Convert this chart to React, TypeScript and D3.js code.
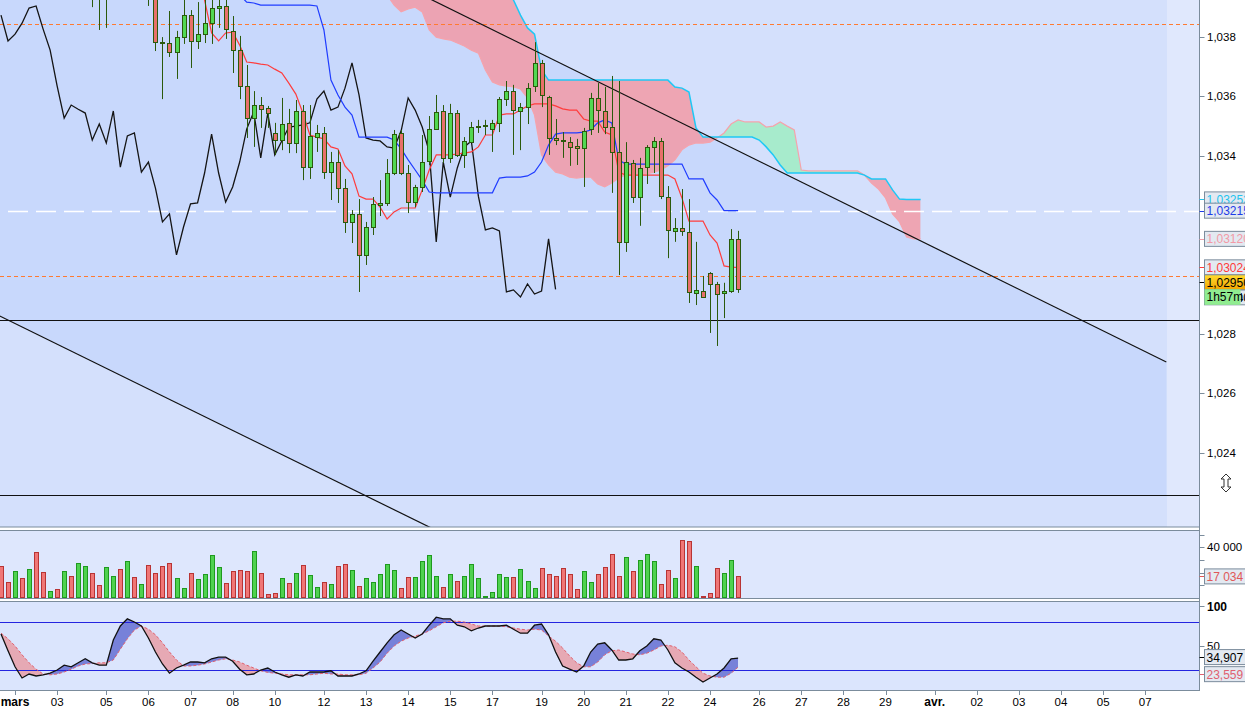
import * as d3 from "d3";
import React from "react";

// 4h candles, index 0 = first candle at the left edge
const candleOpen = [
  1.04127, 1.04077, 1.04043, 1.0411, 1.04077, 1.04144, 1.04009, 1.03959, 1.03992, 1.03965,
  1.04043, 1.03992, 1.04094, 1.04178, 1.03976, 1.03939, 1.04043, 1.0411, 1.04009, 1.04144,
  1.04043, 1.04094, 1.03959, 1.03784, 1.0378, 1.0375, 1.038, 1.03874, 1.03787, 1.0381,
  1.03847, 1.03898, 1.03905, 1.0382, 1.03756, 1.03635, 1.03527, 1.03571, 1.03561, 1.03477,
  1.03453, 1.03511, 1.03443, 1.03551, 1.03362, 1.03463, 1.03477, 1.03345, 1.03379, 1.03291,
  1.03177, 1.03204, 1.03066, 1.0316, 1.03234, 1.03241, 1.03342, 1.03477, 1.03342, 1.03244,
  1.03295, 1.03382, 1.0349, 1.03551, 1.03393, 1.03544, 1.03403, 1.03446, 1.03497, 1.035,
  1.0349, 1.03511, 1.03591, 1.03618, 1.03551, 1.03564, 1.03635, 1.03713, 1.03598, 1.0346,
  1.03453, 1.03446, 1.03433, 1.03426, 1.0349, 1.03595, 1.03551, 1.03497, 1.03413, 1.0311,
  1.03376, 1.03261, 1.03362, 1.0343, 1.0345, 1.03261, 1.03147, 1.03157, 1.03143, 1.02938,
  1.02944, 1.03005, 1.02968, 1.02938, 1.02944, 1.0312,
];
const candleHigh = [
  1.04178, 1.0411, 1.04127, 1.04144, 1.04161, 1.04212, 1.0406, 1.04009, 1.04026, 1.0406,
  1.04077, 1.0411, 1.04195, 1.04212, 1.04009, 1.0406, 1.04127, 1.04144, 1.04161, 1.04178,
  1.04127, 1.04127, 1.03992, 1.038, 1.03888, 1.03821, 1.03932, 1.03891, 1.03918, 1.03942,
  1.03952, 1.03942, 1.03942, 1.03871, 1.03804, 1.03706, 1.03618, 1.03598, 1.03568, 1.03511,
  1.03595, 1.03558, 1.03588, 1.03571, 1.03571, 1.03504, 1.03497, 1.03413, 1.03419, 1.03322,
  1.03217, 1.03254, 1.03177, 1.03261, 1.03318, 1.03389, 1.03487, 1.03487, 1.03369, 1.03302,
  1.0347, 1.03534, 1.03605, 1.03571, 1.03575, 1.03554, 1.03463, 1.03514, 1.03521, 1.03521,
  1.03521, 1.03598, 1.03652, 1.03639, 1.03578, 1.03645, 1.03783, 1.03723, 1.03602, 1.03524,
  1.0348, 1.03463, 1.03457, 1.03494, 1.03612, 1.03645, 1.03632, 1.03669, 1.03652, 1.03446,
  1.03386, 1.03393, 1.03436, 1.03463, 1.0346, 1.03298, 1.0319, 1.03288, 1.03254, 1.0311,
  1.02995, 1.03008, 1.02975, 1.02972, 1.03153, 1.03147,
];
const candleLow = [
  1.0406, 1.04026, 1.04026, 1.0406, 1.0406, 1.03992, 1.03942, 1.03942, 1.03952, 1.03952,
  1.03976, 1.03976, 1.04077, 1.03901, 1.03824, 1.03831, 1.04009, 1.03992, 1.03992, 1.04026,
  1.04026, 1.03905, 1.03753, 1.03591, 1.03733, 1.03659, 1.03777, 1.03696, 1.0376, 1.0378,
  1.03777, 1.03831, 1.03794, 1.03679, 1.03591, 1.0346, 1.0343, 1.03494, 1.03494, 1.03403,
  1.03419, 1.03409, 1.03409, 1.03318, 1.03322, 1.03413, 1.03322, 1.03251, 1.03241, 1.0314,
  1.03106, 1.02941, 1.03032, 1.03133, 1.03197, 1.03231, 1.03335, 1.03335, 1.03207, 1.03227,
  1.03278, 1.03369, 1.03487, 1.03376, 1.03376, 1.03396, 1.03359, 1.03443, 1.03477, 1.0347,
  1.03413, 1.0348, 1.03568, 1.03403, 1.03419, 1.03507, 1.03615, 1.03564, 1.03403, 1.03436,
  1.03393, 1.03366, 1.03369, 1.03295, 1.0347, 1.03477, 1.03473, 1.03275, 1.02998, 1.03076,
  1.03241, 1.03164, 1.03305, 1.03342, 1.03254, 1.03055, 1.0311, 1.0313, 1.02904, 1.02897,
  1.02924, 1.02803, 1.02759, 1.02853, 1.02938, 1.02938,
];
const candleClose = [
  1.04077, 1.04043, 1.0411, 1.04077, 1.04144, 1.04009, 1.03959, 1.03992, 1.03965, 1.04043,
  1.03992, 1.04094, 1.04178, 1.03976, 1.03939, 1.04043, 1.0411, 1.04009, 1.04144, 1.04043,
  1.04094, 1.03959, 1.03784, 1.0378, 1.0375, 1.038, 1.03874, 1.03787, 1.0381, 1.03847,
  1.03898, 1.03905, 1.03827, 1.03756, 1.03635, 1.03527, 1.03571, 1.03557, 1.03544, 1.03453,
  1.03507, 1.03443, 1.03551, 1.03362, 1.03467, 1.03477, 1.03345, 1.03379, 1.03291, 1.03177,
  1.03204, 1.03066, 1.0316, 1.03238, 1.03241, 1.03342, 1.03473, 1.03342, 1.03244, 1.03295,
  1.03379, 1.0349, 1.03548, 1.03393, 1.03544, 1.03403, 1.0345, 1.03497, 1.035, 1.03504,
  1.03511, 1.03591, 1.03618, 1.03554, 1.03564, 1.03628, 1.03713, 1.03605, 1.0346, 1.03453,
  1.0345, 1.0343, 1.03426, 1.03484, 1.03595, 1.03554, 1.03497, 1.03413, 1.0311, 1.03379,
  1.03261, 1.03359, 1.0343, 1.0345, 1.03264, 1.0315, 1.03157, 1.03147, 1.02941, 1.02948,
  1.02924, 1.02968, 1.02934, 1.02944, 1.0312, 1.0295,
];
const volume = [
  25000, 12500, 21000, 15700, 22700, 36000, 20400, 5500, 7000, 21000,
  17300, 27500, 25000, 19600, 10000, 24300, 17300, 22700, 29000, 16500,
  11000, 26000, 19600, 25000, 28000, 15700, 7800, 19600, 15000, 18800,
  33700, 24300, 11800, 21000, 22000, 21000, 36900, 19600, 3100, 3900,
  15700, 11800, 19600, 26000, 18000, 8600, 12500, 11000, 25000, 26700,
  22000, 9400, 15700, 12500, 18800, 26700, 22000, 7800, 16500, 16500,
  29000, 33700, 17300, 8600, 18800, 13300, 17300, 26700, 15700, 1600,
  4700, 18800, 16500, 16500, 22700, 13300, 7800, 23500, 18800, 17300,
  23500, 18800, 7000, 21000, 12500, 18800, 24300, 34500, 17300, 32000,
  21000, 29800, 34500, 29000, 11000, 22000, 15700, 45500, 44700, 25000,
  1600, 3900, 23500, 19600, 29800, 17034,
];

// ichimoku lines
const tenkanStart = 28;
const tenkan = [
  1.03976, 1.03925, 1.03814, 1.03787, 1.03814, 1.03817, 1.03773, 1.03716, 1.03713, 1.03709,
  1.03706, 1.03692, 1.03679, 1.03645, 1.03608, 1.03544, 1.0347, 1.03463, 1.03457, 1.0343,
  1.03423, 1.03366, 1.03339, 1.03264, 1.03254, 1.03254, 1.03227, 1.03187, 1.03211, 1.03224,
  1.03224, 1.03224, 1.03285, 1.03352, 1.03403, 1.03403, 1.03403, 1.03406, 1.03409, 1.03413,
  1.0343, 1.0347, 1.0347, 1.03537, 1.03541, 1.03541, 1.03554, 1.03568, 1.03575, 1.03575,
  1.03575, 1.03568, 1.03558, 1.03554, 1.03554, 1.03524, 1.03517, 1.03517, 1.0348, 1.0347,
  1.03345, 1.03335, 1.03335, 1.03335, 1.03335, 1.03335, 1.03335, 1.03335, 1.03322, 1.03258,
  1.0318, 1.0318, 1.0318, 1.03133, 1.03106, 1.03029, 1.03025, 1.03024,
];
const kijunStart = 34;
const kijun = [
  1.03942, 1.03918, 1.03915, 1.03908, 1.03908, 1.03908, 1.03908, 1.03908, 1.03908, 1.03908,
  1.03908, 1.03905, 1.03824, 1.03655, 1.03605, 1.03564, 1.03537, 1.03463, 1.03463, 1.03463,
  1.03463, 1.03463, 1.03453, 1.03423, 1.03386, 1.03352, 1.03318, 1.03278, 1.03275, 1.03275,
  1.03275, 1.03275, 1.03275, 1.03275, 1.03275, 1.03275, 1.03275, 1.03325, 1.03328, 1.03328,
  1.03328, 1.03332, 1.03345, 1.03379, 1.03436, 1.03473, 1.03477, 1.03477, 1.03477, 1.0348,
  1.03487, 1.03511, 1.03521, 1.03511, 1.03386, 1.03372, 1.03372, 1.03372, 1.03372, 1.03372,
  1.03372, 1.03372, 1.03372, 1.03372, 1.03322, 1.03322, 1.03322, 1.03275, 1.03251, 1.03215,
  1.03215, 1.03215,
];
const spanStart = 55;
const spanA = [
  1.03942, 1.03908, 1.03885, 1.03895, 1.03901, 1.03885, 1.03824, 1.038, 1.03794, 1.0379,
  1.0378, 1.0377, 1.03756, 1.03746, 1.03689, 1.03649, 1.03639, 1.03635, 1.03632, 1.03625,
  1.03595, 1.03537, 1.03403, 1.03369, 1.03345, 1.03339, 1.03328, 1.03325, 1.03328, 1.03328,
  1.03305, 1.03295, 1.03308, 1.03325, 1.03335, 1.03335, 1.03335, 1.03339, 1.03345, 1.03352,
  1.03366, 1.03386, 1.0342, 1.03436, 1.03443, 1.03443, 1.03446, 1.0346, 1.03477, 1.03507,
  1.03521, 1.03514, 1.03514, 1.03514, 1.03497, 1.035, 1.03514, 1.035, 1.03487, 1.03352,
  1.03349, 1.03349, 1.03349, 1.03349, 1.03349, 1.03349, 1.03349, 1.03349, 1.03335, 1.03308,
  1.03288, 1.03258, 1.03204, 1.03177, 1.03126, 1.0312, 1.0312,
];
const spanB = [
  1.04026, 1.04026, 1.04026, 1.04026, 1.04026, 1.04026, 1.04026, 1.04026, 1.04026, 1.04026,
  1.04026, 1.04026, 1.04026, 1.04026, 1.04026, 1.04026, 1.03992, 1.03959, 1.03925, 1.03874,
  1.03831, 1.0381, 1.03689, 1.03655, 1.03655, 1.03655, 1.03655, 1.03655, 1.03655, 1.03655,
  1.03655, 1.03655, 1.03655, 1.03655, 1.03655, 1.03655, 1.03655, 1.03655, 1.03655, 1.03655,
  1.03655, 1.03632, 1.03628, 1.03615, 1.03494, 1.03463, 1.03463, 1.03463, 1.03463, 1.03463,
  1.03463, 1.03463, 1.03463, 1.03453, 1.0343, 1.03403, 1.03369, 1.03342, 1.03342, 1.03342,
  1.03342, 1.03342, 1.03342, 1.03342, 1.03342, 1.03342, 1.03342, 1.03342, 1.03335, 1.03322,
  1.03322, 1.03322, 1.03285, 1.03254, 1.03253, 1.03253, 1.03253,
];
const chikouShift = 26;

// stochastic
const stochK = [
  65, 44, 24, 10, 15, 12.5, 14, 16, 20, 26,
  24, 29, 34, 29, 26, 26, 57.5, 75, 84, 80,
  75, 60, 42.5, 27.5, 16, 22.5, 26, 30, 30, 29,
  34, 36, 36, 31, 21, 14, 15, 20, 22.5, 17.5,
  14, 11, 14, 12.5, 17.5, 17.5, 17.5, 19, 12.5, 12.5,
  12.5, 15, 19, 31, 42.5, 54, 64, 70, 65, 60,
  65, 76, 86, 84, 84, 76, 74, 69, 72.5, 75,
  75, 75, 76, 71, 66, 66, 76, 77.5, 64, 42.5,
  25, 21, 17.5, 25, 42.5, 52.5, 54, 45, 32.5, 32.5,
  34, 44, 50, 59, 57.5, 45, 29, 22.5, 17.5, 11,
  5, 10, 15, 22.5, 34, 34.907,
];
const stochD = [
  66, 59, 50, 39, 29, 21, 15, 14, 15, 17.5,
  21, 25, 27.5, 28, 29, 29, 32.5, 46, 59, 70,
  75, 71, 64, 54, 42.5, 32.5, 25, 25, 26, 27.5,
  30, 32.5, 34, 32.5, 30, 26, 22.5, 19, 17, 16,
  15, 14, 14, 14, 14, 15, 16, 15, 15, 14,
  14, 14, 16, 22.5, 30, 41, 50, 56, 60, 62.5,
  65, 69, 74, 79, 81, 81, 80, 77.5, 75, 75,
  75, 75, 74, 72.5, 71, 70, 71, 70, 62.5, 56,
  47.5, 37.5, 29, 24, 24, 30, 39, 44, 45, 42.5,
  40, 39, 41, 45, 50, 51, 49, 42.5, 32.5, 24,
  16, 12.5, 11, 11, 16, 23.559,
];
const stochLevels = [80, 20];

// drawing objects
const orangeLevels = [1.03844, 1.02995];
const whiteLevel = 1.03215;
const blackLevels = [1.02847, 1.02257];
const upperTrend = [{ i: 61, p: 1.0393 }, { i: 166, p: 1.02705 }];
const lowerTrend = [{ i: 0, p: 1.02858 }, { i: 61, p: 1.02149 }];

// axes
const priceTicks = [1.024, 1.026, 1.028, 1.034, 1.036, 1.038];
const volTicks = [10000, 20000, 30000, 40000, 50000];
const dateTickIdx = [2, 8, 15, 21, 27, 33, 39, 46, 52, 58, 64, 70, 77, 83, 89, 95, 101, 108, 114, 120, 126, 133, 139, 145, 151, 157, 163];
const dateTickLabels = ["mars", "03", "05", "06", "07", "08", "10", "12", "13", "14", "15", "17", "19", "20", "21", "22", "24", "26", "27", "28", "29", "avr.", "02", "03", "04", "05", "07"];
const timerText = "1h57m";

const W = 1245;
const H = 708;
const RIGHT = 1199.5;
const FUTURE_X = 1167;
const MAIN = { top: 0, bottom: 527 };
const VOL = { top: 530, bottom: 598 };
const STO = { top: 601, bottom: 690 };
const FONT = "Arial, 'Liberation Sans', Helvetica, sans-serif";
const BORDER = "#7b8c9c";

const fmtPrice = (v: number) => d3.format(".5f")(v).replace(".", ",");
const fmtTick = (v: number) => d3.format(".3f")(v).replace(".", ",");

function Marker({ yc, text, color, fill = "#e3e9f1", tick, clip }: { yc: number; text: string; color: string; fill?: string; tick?: string; clip?: string }) {
  return (
    <g>
      {tick && <line x1={RIGHT} x2={RIGHT + 5} y1={Math.round(yc) + 0.5} y2={Math.round(yc) + 0.5} stroke={tick} />}
      <rect x={1204.5} y={yc - 7.5} width={42} height={15} fill={fill} stroke={BORDER} />
      <text x={1206.5} y={yc + 4.5} fontSize={12} fill={color} fontFamily={FONT} clipPath={clip}>{text}</text>
    </g>
  );
}

export default function App() {
  const x = d3.scaleLinear().domain([0, 163]).range([1, 1 + 7.02 * 163]);
  const y = d3.scaleLinear().domain([1.024, 1.038]).range([452.5, 37.1]);
  const yVol = d3.scaleLinear().domain([0, 40000]).range([VOL.bottom, 547.3]);
  const ySto = d3.scaleLinear().domain([0, 100]).range([686, 606]);
  const cx = (i: number) => Math.round(x(i));

  const upper = d3.scaleLinear().domain([upperTrend[0].i, upperTrend[1].i]).range([upperTrend[0].p, upperTrend[1].p]);
  const lower = d3.scaleLinear().domain([lowerTrend[0].i, lowerTrend[1].i]).range([lowerTrend[0].p, lowerTrend[1].p]);
  const iEnd = upperTrend[1].i;
  const channel = [
    [x(-1), y(upper(-1))],
    [x(iEnd), y(upper(iEnd))],
    [x(iEnd), y(lower(iEnd))],
    [x(-1), y(lower(-1))],
  ];

  // cloud
  type CP = { i: number; a: number; b: number };
  const cloud: CP[] = spanA.map((a, k) => ({ i: spanStart + k, a, b: spanB[k] }));
  const topTo = (f: (d: CP) => number) => d3.area<CP>().x((d) => x(d.i)).y0(MAIN.top - 5).y1(f)(cloud) || "";
  const toBottom = (f: (d: CP) => number) => d3.area<CP>().x((d) => x(d.i)).y0(f).y1(MAIN.bottom + 5)(cloud) || "";
  const lineA = d3.line<CP>().x((d) => x(d.i)).y((d) => y(d.a))(cloud) || "";
  const lineB = d3.line<CP>().x((d) => x(d.i)).y((d) => y(d.b))(cloud) || "";

  const seriesLine = (vals: number[], start: number) =>
    d3.line<number>().x((_, k) => x(start + k)).y((v) => y(v))(vals) || "";
  const chikou = seriesLine(candleClose.slice(chikouShift), 0);

  // stochastic
  type SP = { i: number; k: number; d: number };
  const sto: SP[] = stochK.map((k, i) => ({ i, k, d: stochD[i] }));
  const sTopTo = (f: (d: SP) => number) => d3.area<SP>().x((d) => x(d.i)).y0(STO.top).y1(f)(sto) || "";
  const sToBottom = (f: (d: SP) => number) => d3.area<SP>().x((d) => x(d.i)).y0(f).y1(STO.bottom)(sto) || "";
  const kLine = d3.line<SP>().x((d) => x(d.i)).y((d) => ySto(d.k))(sto) || "";
  const dLine = d3.line<SP>().x((d) => x(d.i)).y((d) => ySto(d.d))(sto) || "";

  const last = candleClose.length - 1;
  const lastClose = candleClose[last];
  const yClose = y(lastClose);

  return (
    <div style={{ position: "absolute", left: 0, top: 0, width: W, height: H, background: "#fff" }}>
      <svg width={W} height={H} style={{ display: "block" }} fontFamily={FONT}>
        <defs>
          <clipPath id="mainClip"><rect x={0} y={MAIN.top} width={RIGHT} height={MAIN.bottom - MAIN.top} /></clipPath>
          <clipPath id="chanClip"><rect x={0} y={0} width={FUTURE_X} height={y(blackLevels[1])} /></clipPath>
          <clipPath id="belowB"><path d={toBottom((d) => y(d.b))} /></clipPath>
          <clipPath id="belowA"><path d={toBottom((d) => y(d.a))} /></clipPath>
          <clipPath id="belowK"><path d={sToBottom((d) => ySto(d.k))} /></clipPath>
          <clipPath id="belowD"><path d={sToBottom((d) => ySto(d.d))} /></clipPath>
          <clipPath id="stoClip"><rect x={0} y={STO.top} width={RIGHT} height={STO.bottom - STO.top} /></clipPath>
          <clipPath id="hiddenTail"><rect x={1240.5} y={0} width={10} height={H} /></clipPath>
          <linearGradient id="closeGrad" x1="0" x2="0" y1="0" y2="1">
            <stop offset="0" stopColor="#ffdc30" />
            <stop offset="1" stopColor="#f2a400" />
          </linearGradient>
        </defs>

        {/* main panel */}
        <rect x={0} y={MAIN.top} width={RIGHT} height={MAIN.bottom} fill="#d4e0fc" />
        <g clipPath="url(#chanClip)">
          <polygon points={channel.map((p) => p.join(",")).join(" ")} fill="#c8d8fc" />
        </g>
        <rect x={FUTURE_X} y={MAIN.top} width={RIGHT - FUTURE_X} height={MAIN.bottom} fill="#ffffff" opacity={0.28} />

        <g clipPath="url(#mainClip)">
          <path d={topTo((d) => y(d.a))} clipPath="url(#belowB)" fill="#f29aa6" opacity={0.85} />
          <path d={topTo((d) => y(d.b))} clipPath="url(#belowA)" fill="#a2ecc6" opacity={0.9} />
          <path d={lineA} fill="none" stroke="#f5a3ac" strokeWidth={1.2} />
          <path d={lineB} fill="none" stroke="#1ec8f5" strokeWidth={1.5} />

          {orangeLevels.map((p) => (
            <line key={p} x1={0} x2={RIGHT} y1={Math.round(y(p)) + 0.5} y2={Math.round(y(p)) + 0.5} stroke="#ff7a30" strokeDasharray="4,3" />
          ))}
          <line x1={8} x2={RIGHT} y1={Math.round(y(whiteLevel)) + 0.5} y2={Math.round(y(whiteLevel)) + 0.5} stroke="#ffffff" strokeWidth={1.5} strokeDasharray="20,8" />
          {blackLevels.map((p) => (
            <line key={p} x1={0} x2={RIGHT} y1={Math.round(y(p)) + 0.5} y2={Math.round(y(p)) + 0.5} stroke="#111" />
          ))}
          <line x1={x(-1)} y1={y(upper(-1))} x2={x(iEnd)} y2={y(upper(iEnd))} stroke="#111" strokeWidth={1.2} />
          <line x1={x(-1)} y1={y(lower(-1))} x2={x(lowerTrend[1].i + 2)} y2={y(lower(lowerTrend[1].i + 2))} stroke="#111" strokeWidth={1.2} />

          <path d={chikou} fill="none" stroke="#141414" strokeWidth={1.3} />
          <path d={seriesLine(kijun, kijunStart)} fill="none" stroke="#1f3cff" strokeWidth={1.2} />
          <path d={seriesLine(tenkan, tenkanStart)} fill="none" stroke="#ff3c3c" strokeWidth={1.2} />

          {candleClose.map((c, i) => {
            const o = candleOpen[i];
            const up = c >= o;
            const xc = cx(i);
            const yt = Math.round(y(Math.max(o, c)));
            const yb = Math.round(y(Math.min(o, c)));
            return (
              <g key={i}>
                <line x1={xc + 0.5} x2={xc + 0.5} y1={y(candleHigh[i])} y2={y(candleLow[i])} stroke="#2b5a0c" />
                <rect x={xc - 1.5} y={yt + 0.5} width={4} height={Math.max(1, yb - yt)} fill={up ? "#52d852" : "#e8706a"} stroke="#2b5a0c" />
              </g>
            );
          })}
        </g>
        <rect x={-1} y={-1} width={RIGHT + 1} height={MAIN.bottom + 1} fill="none" stroke={BORDER} />

        {/* resize cursor */}
        <path d="M1226,474 L1231,479 L1228,479 L1228,487 L1231,487 L1226,492 L1221,487 L1224,487 L1224,479 L1221,479 Z" fill="#fff" stroke="#333" />

        {/* volume panel */}
        <rect x={-1} y={VOL.top + 0.5} width={RIGHT + 1} height={VOL.bottom - VOL.top} fill="#dee7fd" stroke={BORDER} />
        {volume.map((v, i) => {
          const up = candleClose[i] >= candleOpen[i];
          const top = Math.round(yVol(v));
          return (
            <rect key={i} x={cx(i) - 1.5} y={top + 0.5} width={4} height={Math.max(1, VOL.bottom - top - 1)}
              fill={up ? "#4fd24f" : "#f07676"} stroke={up ? "#1f9a1f" : "#b83434"} />
          );
        })}

        {/* stochastic panel */}
        <rect x={-1} y={STO.top + 0.5} width={RIGHT + 1} height={STO.bottom - STO.top} fill="#dbe5fd" stroke={BORDER} />
        <g clipPath="url(#stoClip)">
          <path d={sTopTo((d) => ySto(d.k))} clipPath="url(#belowD)" fill="#e7a2ac" opacity={0.9} />
          <path d={sTopTo((d) => ySto(d.d))} clipPath="url(#belowK)" fill="#6570d2" opacity={0.85} />
          {stochLevels.map((l) => (
            <line key={l} x1={0} x2={RIGHT} y1={Math.round(ySto(l)) + 0.5} y2={Math.round(ySto(l)) + 0.5} stroke="#2424e0" />
          ))}
          <path d={dLine} fill="none" stroke="#e0606e" strokeWidth={1} strokeDasharray="3,2" />
          <path d={kLine} fill="none" stroke="#111" strokeWidth={1.3} />
        </g>

        {/* right axis */}
        <line x1={RIGHT} x2={RIGHT} y1={0} y2={STO.bottom} stroke={BORDER} />
        {priceTicks.map((p) => (
          <g key={p}>
            <line x1={RIGHT} x2={RIGHT + 5} y1={Math.round(y(p)) + 0.5} y2={Math.round(y(p)) + 0.5} stroke={BORDER} />
            <text x={1207} y={y(p) + 4} fontSize={11.5} fill="#000">{fmtTick(p)}</text>
          </g>
        ))}
        {volTicks.map((v) => (
          <line key={v} x1={RIGHT} x2={RIGHT + 5} y1={Math.round(yVol(v)) + 0.5} y2={Math.round(yVol(v)) + 0.5} stroke={BORDER} />
        ))}
        <text x={1207} y={yVol(40000) + 4} fontSize={11.5} fill="#000">40 000</text>
        <line x1={RIGHT} x2={RIGHT + 5} y1={Math.round(ySto(100)) + 0.5} y2={Math.round(ySto(100)) + 0.5} stroke={BORDER} />
        <text x={1207} y={ySto(100) + 5} fontSize={12} fontWeight="bold" fill="#000">100</text>
        <line x1={RIGHT} x2={RIGHT + 5} y1={Math.round(ySto(50)) + 0.5} y2={Math.round(ySto(50)) + 0.5} stroke={BORDER} />
        <text x={1207} y={ySto(50) + 4} fontSize={11.5} fill="#000">50</text>

        <Marker yc={y(spanB[spanB.length - 1])} text={fmtPrice(spanB[spanB.length - 1])} color="#22c4ee" tick="#22c4ee" />
        <Marker yc={y(kijun[kijun.length - 1])} text={fmtPrice(kijun[kijun.length - 1])} color="#1e3ce8" tick="#1e3ce8" />
        <Marker yc={y(spanA[spanA.length - 1])} text={fmtPrice(spanA[spanA.length - 1])} color="#f29aa6" tick="#f29aa6" />
        <Marker yc={y(tenkan[tenkan.length - 1])} text={fmtPrice(tenkan[tenkan.length - 1])} color="#ff3a3a" tick="#ff3a3a" />
        <Marker yc={yClose + 8} text={fmtPrice(candleClose[last] - 0.0001)} color="#000" clip="url(#hiddenTail)" />
        <Marker yc={yClose - 7} text={fmtPrice(lastClose)} color="#000" fill="url(#closeGrad)" tick="#000" />
        <rect x={1204.5} y={yClose} width={36} height={15.5} fill="#90ec90" />
        <text x={1206.5} y={yClose + 12} fontSize={12} fill="#000">{timerText}</text>

        <Marker yc={yVol(volume[last])} text={d3.format(",")(volume[last]).replace(",", " ")} color="#e05858" fill="#e3e9f1" tick="#e05858" />
        <Marker yc={ySto(stochK[last]) - 1} text={d3.format(".3f")(stochK[last]).replace(".", ",")} color="#000" tick="#000" />
        <Marker yc={ySto(stochD[last]) + 7} text={d3.format(".3f")(stochD[last]).replace(".", ",")} color="#e06070" tick="#e06070" />

        {/* time axis */}
        {dateTickIdx.map((t, k) => {
          const bold = dateTickLabels[k] === "mars" || dateTickLabels[k] === "avr.";
          return (
            <g key={k}>
              <line x1={cx(t) + 0.5} x2={cx(t) + 0.5} y1={STO.bottom} y2={STO.bottom + 5} stroke={BORDER} />
              <text x={x(t)} y={706} textAnchor="middle" fontSize={bold ? 12 : 11.5} fontWeight={bold ? "bold" : "normal"} fill="#000">
                {dateTickLabels[k]}
              </text>
            </g>
          );
        })}
      </svg>
    </div>
  );
}
